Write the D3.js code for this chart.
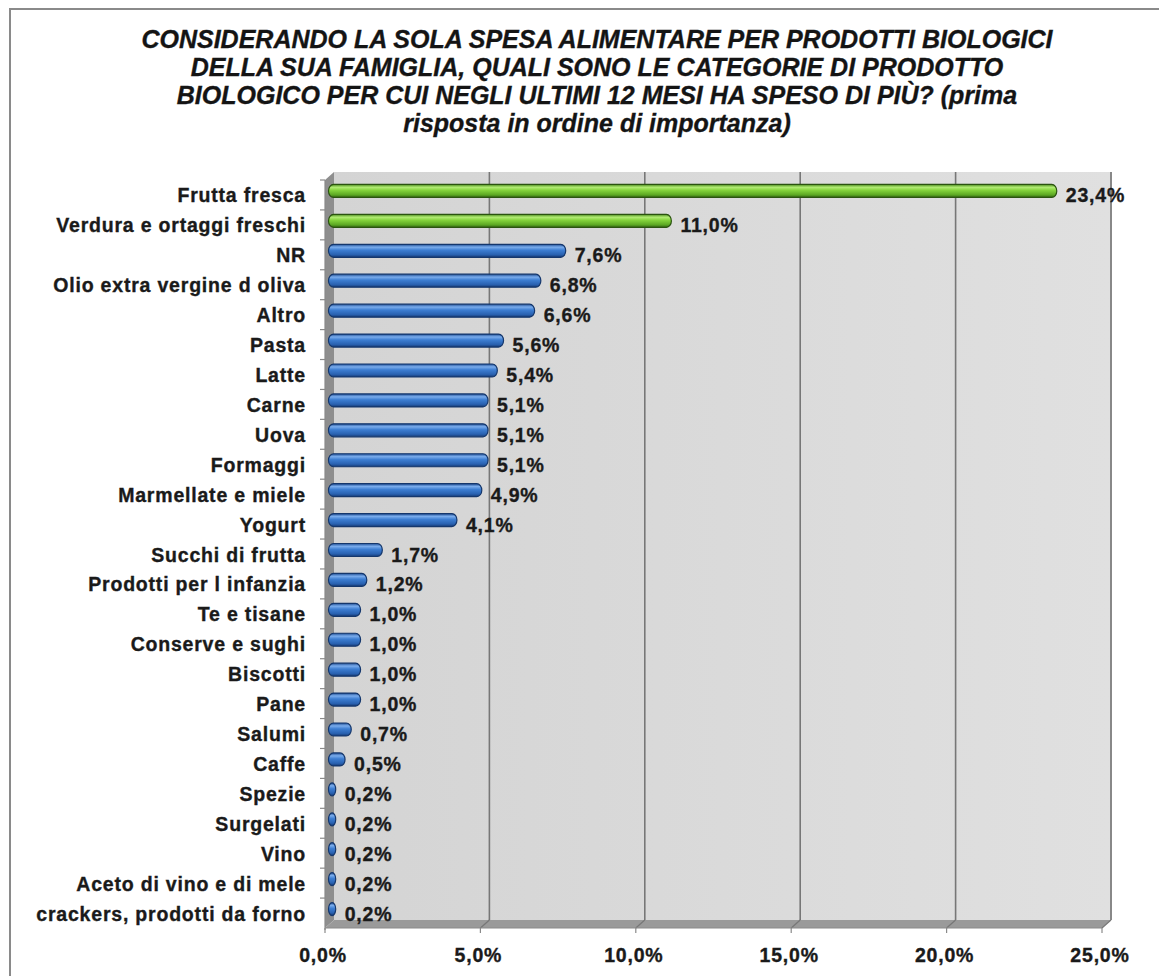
<!DOCTYPE html>
<html>
<head>
<meta charset="utf-8">
<script src="https://cdn.jsdelivr.net/npm/d3@7"></script>
<style>
  body { margin: 0; background: #fff; }
  svg { display: block; font-family: "Liberation Sans", Arial, sans-serif; }
  .lbl { stroke: #1a1a1a; stroke-width: 0.35px; }
</style>
</head>
<body>
<div id="chart"></div>
<script>
// data
const categories = [
  "Frutta fresca", "Verdura e ortaggi freschi", "NR", "Olio extra vergine d oliva",
  "Altro", "Pasta", "Latte", "Carne", "Uova", "Formaggi", "Marmellate e miele",
  "Yogurt", "Succhi di frutta", "Prodotti per l infanzia", "Te e tisane",
  "Conserve e sughi", "Biscotti", "Pane", "Salumi", "Caffe", "Spezie",
  "Surgelati", "Vino", "Aceto di vino e di mele", "crackers, prodotti da forno"
];
const values = [23.4, 11.0, 7.6, 6.8, 6.6, 5.6, 5.4, 5.1, 5.1, 5.1, 4.9, 4.1,
  1.7, 1.2, 1.0, 1.0, 1.0, 1.0, 0.7, 0.5, 0.2, 0.2, 0.2, 0.2, 0.2];
const highlighted = ["Frutta fresca", "Verdura e ortaggi freschi"];
const tickValues = [0, 5, 10, 15, 20, 25];
const titleLines = [
  "CONSIDERANDO LA SOLA SPESA ALIMENTARE PER PRODOTTI BIOLOGICI",
  "DELLA SUA FAMIGLIA, QUALI SONO LE CATEGORIE DI PRODOTTO",
  "BIOLOGICO PER CUI NEGLI ULTIMI 12 MESI HA SPESO DI PIÙ? (prima",
  "risposta in ordine di importanza)"
];

let width = 1159, height = 976;
let fmt = v => v.toFixed(1).replace(".", ",") + "%";
let labelSize = "19.5px", labelSpacing = "0.8px";

// front plane of the 3d plot, and depth offset
let plotLeft = 325, plotRight = 1102, plotTop = 180, plotBottom = 928;
let dx = 9, dy = -8;

let svg = d3.select("#chart").append("svg")
  .attr("width", width)
  .attr("height", height);

let defs = svg.append("defs");

// cylinder-like gradients for the bars
function barGradient(id, stops) {
  let g = defs.append("linearGradient")
    .attr("id", id)
    .attr("x1", 0).attr("y1", 0).attr("x2", 0).attr("y2", 1);
  stops.forEach(s => g.append("stop").attr("offset", s[0]).attr("stop-color", s[1]));
}
barGradient("gGreen", [[0, "#4a8a1e"], [0.22, "#b2ec74"], [0.45, "#84d33c"], [0.8, "#5ca823"], [1, "#356614"]]);
barGradient("gBlue", [[0, "#1e4d94"], [0.22, "#7aacec"], [0.45, "#3d7ed2"], [0.8, "#2961b0"], [1, "#163a74"]]);

let wallGrad = defs.append("linearGradient")
  .attr("id", "gWall")
  .attr("x1", 0).attr("y1", 0).attr("x2", 1).attr("y2", 0);
wallGrad.append("stop").attr("offset", 0).attr("stop-color", "#d4d4d4");
wallGrad.append("stop").attr("offset", 1).attr("stop-color", "#e0e0e0");

// outer frame (cropped at right and bottom)
svg.append("rect")
  .attr("x", 10).attr("y", 9)
  .attr("width", 1200).attr("height", 1000)
  .attr("fill", "none")
  .attr("stroke", "#8a8a8a")
  .attr("stroke-width", 2);

// title
svg.append("g").selectAll("text")
  .data(titleLines)
  .join("text")
  .attr("class", "lbl")
  .attr("x", 597)
  .attr("y", (d, i) => 48 + i * 28)
  .attr("text-anchor", "middle")
  .attr("font-size", "25px")
  .attr("font-weight", "bold")
  .attr("font-style", "italic")
  .attr("fill", "#141414")
  .text(d => d);

// scales (front plane)
let x = d3.scaleLinear().domain([0, 25]).range([plotLeft, plotRight]);
let y = d3.scaleBand().domain(categories).range([plotTop, plotBottom]);

// back wall
svg.append("rect")
  .attr("x", plotLeft + dx).attr("y", plotTop + dy)
  .attr("width", plotRight - plotLeft).attr("height", plotBottom - plotTop)
  .attr("fill", "url(#gWall)");

// left wall
svg.append("path")
  .attr("d", `M${plotLeft},${plotTop} L${plotLeft + dx},${plotTop + dy} L${plotLeft + dx},${plotBottom + dy} L${plotLeft},${plotBottom} Z`)
  .attr("fill", "#8e8e8e");

// floor
svg.append("path")
  .attr("d", `M${plotLeft},${plotBottom} L${plotLeft + dx},${plotBottom + dy} L${plotRight + dx},${plotBottom + dy} L${plotRight},${plotBottom} Z`)
  .attr("fill", "#9a9a9a");

// gridlines on wall and floor
let grid = svg.append("g");
tickValues.slice(1).forEach(t => {
  grid.append("line")
    .attr("x1", x(t) + dx).attr("x2", x(t) + dx)
    .attr("y1", plotTop + dy).attr("y2", plotBottom + dy)
    .attr("stroke", "#777").attr("stroke-width", 1.6);
  grid.append("line")
    .attr("x1", x(t) + dx).attr("x2", x(t))
    .attr("y1", plotBottom + dy).attr("y2", plotBottom)
    .attr("stroke", "#777").attr("stroke-width", 1.2);
});

// right edge of the wall
svg.append("line")
  .attr("x1", plotRight + dx).attr("x2", plotRight + dx)
  .attr("y1", plotTop + dy).attr("y2", plotBottom + dy)
  .attr("stroke", "#888").attr("stroke-width", 2);

// front axis lines and ticks
svg.append("line")
  .attr("x1", plotLeft).attr("x2", plotLeft)
  .attr("y1", plotTop).attr("y2", plotBottom + 2)
  .attr("stroke", "#8a8a8a").attr("stroke-width", 1.2);
svg.append("line")
  .attr("x1", plotLeft).attr("x2", plotRight)
  .attr("y1", plotBottom).attr("y2", plotBottom)
  .attr("stroke", "#8a8a8a").attr("stroke-width", 1.2);

svg.append("g").selectAll("line")
  .data(tickValues)
  .join("line")
  .attr("x1", d => x(d)).attr("x2", d => x(d))
  .attr("y1", plotBottom).attr("y2", plotBottom + 5)
  .attr("stroke", "#8a8a8a").attr("stroke-width", 1.2);

svg.append("g").selectAll("line")
  .data(categories)
  .join("line")
  .attr("x1", plotLeft - 5).attr("x2", plotLeft)
  .attr("y1", d => y(d)).attr("y2", d => y(d))
  .attr("stroke", "#8a8a8a").attr("stroke-width", 1.2);

// x tick labels
svg.append("g").selectAll("text")
  .data(tickValues)
  .join("text")
  .attr("class", "lbl")
  .attr("x", d => x(d) - 2)
  .attr("y", 962)
  .attr("text-anchor", "middle")
  .attr("font-size", labelSize)
  .attr("letter-spacing", labelSpacing)
  .attr("font-weight", "bold")
  .attr("fill", "#1a1a1a")
  .text(d => fmt(d));

// bar centre (bars sit at mid depth)
let barY = c => y(c) + y.bandwidth() / 2 + dy / 2;

// category labels
svg.append("g").selectAll("text")
  .data(categories)
  .join("text")
  .attr("class", "lbl")
  .attr("x", 306)
  .attr("y", d => barY(d) + 11.5)
  .attr("text-anchor", "end")
  .attr("font-size", labelSize)
  .attr("letter-spacing", labelSpacing)
  .attr("font-weight", "bold")
  .attr("fill", "#1a1a1a")
  .text(d => d);

// bars
let bx = v => x(v) + dx / 2;
let barH = 13;
let bars = svg.append("g");
categories.forEach((c, i) => {
  let v = values[i];
  let cy = barY(c);
  let green = highlighted.includes(c);
  let x0 = bx(0) - 1;
  let w = Math.max(bx(v) - x0, 7);
  bars.append("rect")
    .attr("x", x0).attr("y", cy - barH / 2)
    .attr("width", w).attr("height", barH)
    .attr("rx", Math.min(5, w / 2)).attr("ry", barH / 2)
    .attr("fill", green ? "url(#gGreen)" : "url(#gBlue)")
    .attr("stroke", green ? "#2b5410" : "#15376c")
    .attr("stroke-width", 1.2);

  bars.append("text")
    .attr("class", "lbl")
    .attr("x", x0 + w + 9)
    .attr("y", cy + 11.5)
    .attr("font-size", labelSize)
    .attr("letter-spacing", labelSpacing)
    .attr("font-weight", "bold")
    .attr("fill", "#1a1a1a")
    .text(fmt(v));
});
</script>
</body>
</html>
